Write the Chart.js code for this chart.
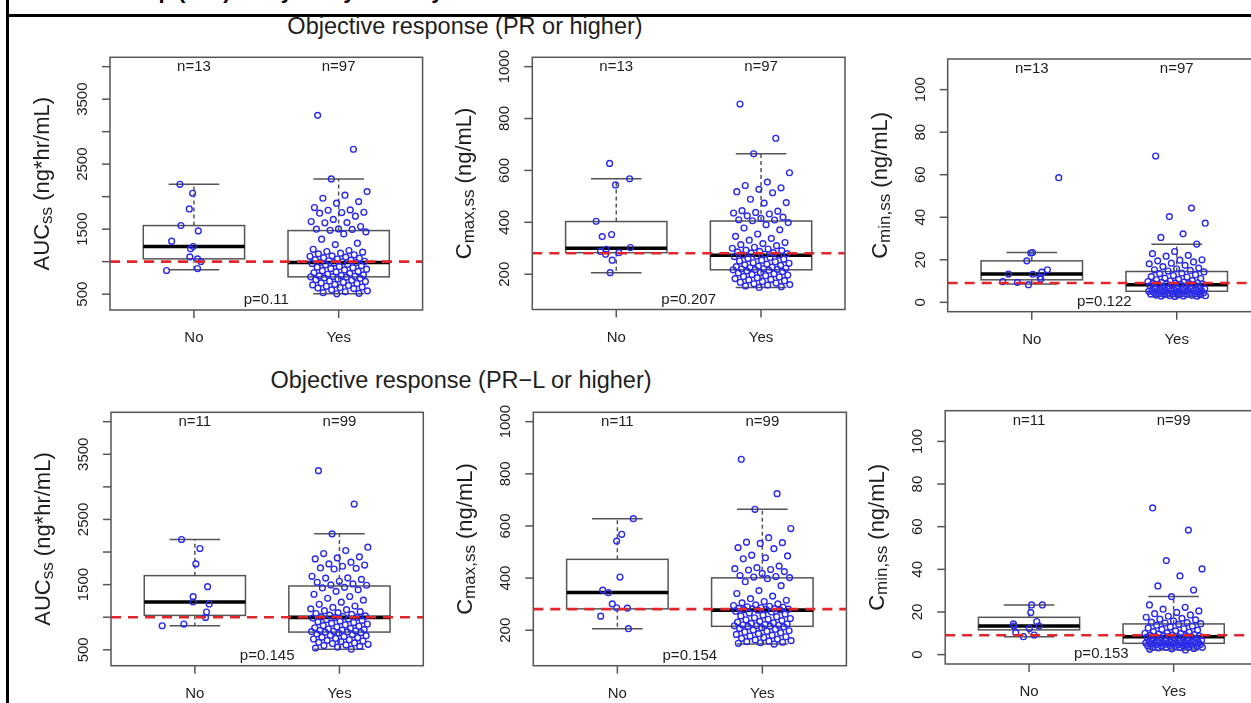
<!DOCTYPE html>
<html>
<head>
<meta charset="utf-8">
<script src="https://cdn.jsdelivr.net/npm/chart.js@4.4.1/dist/chart.umd.min.js"></script>
<style>
html,body{margin:0;padding:0;background:#fff;overflow:hidden;}
#wrap{position:relative;width:1251px;height:703px;overflow:hidden;background:#fff;}
#wrap canvas{position:absolute;left:0;top:0;}
.txt{position:absolute;white-space:nowrap;line-height:1;font-family:"Liberation Sans",Arial,Helvetica,sans-serif;color:#1e1e1e;}
.rowtitle{font-size:23.5px;transform:translate(-50%,-50%);}
.header{font-size:22px;font-weight:bold;color:#000;}
.vline{position:absolute;left:6px;top:0;width:2.5px;height:703px;background:#000;}
.hline{position:absolute;left:6px;top:13.5px;width:1251px;height:3.5px;background:#000;}
</style>
</head>
<body>
<div id="wrap"></div>
<script>
// ---------------- data ----------------
const groups = ['No', 'Yes'];
const rowTitles = ['Objective response (PR or higher)', 'Objective response (PR\u2212L or higher)'];
const headerText = 'Relationship (E-R) analysis by efficacy';
const nPR = [13, 97];
const nPRL = [11, 99];
const pValues = ['p=0.11', 'p=0.207', 'p=0.122', 'p=0.145', 'p=0.154', 'p=0.153'];

const aucTicks = [500, 1000, 1500, 2000, 2500, 3000, 3500, 4000];
const aucTickLabels = ['500', '', '1500', '', '2500', '', '3500', ''];
const cmaxTicks = [200, 400, 600, 800, 1000];
const cmaxTickLabels = ['200', '400', '600', '800', '1000'];
const cminTicks = [0, 20, 40, 60, 80, 100];
const cminTickLabels = ['0', '20', '40', '60', '80', '100'];

const refAUC = 1000;
const refCmax = 281;
const refCmin = 9.1;

// box statistics: [lower whisker, Q1, median, Q3, upper whisker]
const aucBoxPR = [[874, 1043, 1233, 1555, 2190], [505, 766, 987, 1478, 2273]];
const cmaxBoxPR = [[206, 283, 300, 403, 568], [149, 217, 273, 405, 664]];
const cminBoxPR = [[8.6, 10.6, 13.3, 19.5, 23.4], [2.8, 5.2, 8.3, 14.5, 27.3]];
const aucBoxPRL = [[869, 1028, 1233, 1638, 2192], [510, 772, 997, 1479, 2279]];
const cmaxBoxPRL = [[206, 282, 345, 472, 628], [147, 215, 277, 401, 664]];
const cminBoxPRL = [[8.4, 11.6, 13.4, 17.5, 23.3], [2.2, 5.3, 8.4, 14.4, 27.2]];

// individual values
const aucNoPR = [2190, 2052, 1811, 1555, 1473, 1315, 1233, 1197, 1074, 1043, 1002, 864, 894];
const aucYesPR = [3251, 2729, 2273, 2078, 2022, 1975, 1924, 1899, 1832, 1796, 1790, 1760, 1755, 1745, 1700, 1650, 1617, 1601, 1598, 1540, 1504, 1499, 1496, 1482,
  1458, 1427, 1345, 1284, 1262, 1190, 1171, 1156, 1146, 1130, 1120, 1105, 1089, 1082, 1070, 1061, 1052, 1040, 1031, 1022, 1014, 1006, 998, 990,
  987, 981, 972, 958, 951, 940, 926, 915, 905, 893, 884, 872, 861, 850, 842, 829, 818, 806, 797, 788, 781, 775, 770, 767,
  762, 751, 744, 733, 722, 714, 703, 695, 682, 671, 664, 651, 642, 633, 621, 610, 602, 594, 585, 566, 551, 536, 522, 512, 505];
const cmaxNoPR = [627, 568, 544, 404, 353, 345, 303, 296, 288, 283, 277, 254, 206];
const cmaxYesPR = [856, 724, 664, 591, 555, 542, 533, 527, 518, 514, 489, 476, 474, 445, 443, 438, 436, 432, 425, 420, 415, 410, 409, 406,
  399, 391, 378, 371, 355, 346, 338, 331, 322, 318, 314, 310, 304, 300, 297, 293, 291, 288, 286, 283, 281, 279, 277, 275,
  273, 270, 268, 264, 261, 258, 254, 251, 248, 244, 242, 239, 236, 234, 231, 229, 227, 225, 223, 221, 220, 219, 218, 217,
  215, 213, 210, 207, 205, 202, 199, 197, 194, 191, 189, 186, 183, 180, 178, 175, 172, 169, 166, 163, 160, 158, 155, 152, 149];
const cminNoPR = [58.6, 23.4, 23.2, 19.5, 15.3, 14.2, 13.3, 13.2, 11.9, 10.9, 9.7, 9.4, 8.3];
const cminYesPR = [68.8, 44.3, 40.3, 37.2, 32.2, 30.5, 27.4, 23.9, 22.9, 22.1, 21.7, 20.0, 19.8, 19.5, 19.0, 18.4, 18.1, 17.4, 16.8, 16.1, 15.8, 15.3, 15.0, 14.7,
  14.3, 13.8, 13.5, 13.0, 12.6, 12.1, 11.9, 11.4, 11.2, 10.8, 10.6, 10.2, 10.0, 9.8, 9.5, 9.4, 9.2, 9.0, 8.9, 8.8, 8.7, 8.6, 8.5, 8.4,
  8.3, 8.0, 7.8, 7.6, 7.3, 7.2, 7.0, 6.9, 6.7, 6.6, 6.4, 6.3, 6.1, 6.0, 5.9, 5.8, 5.7, 5.6, 5.5, 5.4, 5.4, 5.3, 5.3, 5.2,
  5.1, 5.0, 4.9, 4.8, 4.7, 4.6, 4.5, 4.4, 4.3, 4.2, 4.1, 4.0, 3.9, 3.8, 3.7, 3.6, 3.5, 3.4, 3.3, 3.2, 3.1, 3.0, 2.9, 2.9, 2.8];
const aucNoPRL = [2192, 2054, 1818, 1469, 1315, 1233, 1203, 1079, 997, 895, 869];
const aucYesPRL = [3249, 2736, 2279, 2074, 2023, 1977, 1926, 1910, 1895, 1844, 1818, 1800, 1782, 1756, 1750, 1740, 1628, 1603, 1600, 1580, 1551, 1536, 1510, 1495, 1490,
  1459, 1449, 1420, 1397, 1352, 1318, 1290, 1262, 1231, 1198, 1172, 1150, 1128, 1116, 1100, 1086, 1071, 1056, 1042, 1031, 1019, 1011, 1005, 1000,
  997, 986, 974, 963, 951, 940, 929, 918, 906, 896, 884, 871, 861, 849, 838, 829, 819, 810, 801, 795, 789, 784, 779, 775, 772,
  765, 756, 744, 736, 724, 716, 704, 694, 686, 674, 666, 654, 645, 634, 626, 614, 605, 596, 584, 575, 566, 553, 541, 526, 510];
const cmaxNoPRL = [628, 568, 542, 404, 354, 344, 301, 286, 285, 254, 206];
const cmaxYesPRL = [856, 724, 664, 590, 555, 538, 536, 533, 517, 513, 488, 485, 478, 474, 446, 440, 436, 433, 431, 425, 418, 410, 406, 404, 402,
  398, 386, 371, 352, 341, 331, 321, 315, 310, 305, 301, 297, 295, 292, 290, 288, 286, 284, 283, 282, 281, 280, 279, 278,
  277, 273, 270, 266, 262, 258, 255, 252, 248, 245, 242, 240, 237, 234, 231, 228, 226, 224, 222, 220, 219, 218, 217, 216, 215,
  213, 210, 207, 204, 201, 198, 196, 193, 190, 187, 184, 181, 178, 175, 172, 169, 166, 163, 160, 158, 156, 154, 152, 150, 147];
const cminNoPRL = [23.3, 23.3, 19.7, 15.5, 14.4, 13.4, 13.4, 12.3, 10.3, 9.2, 8.4];
const cminYesPRL = [68.8, 58.4, 44.1, 40.2, 36.9, 32.2, 30.3, 27.2, 23.3, 22.2, 21.3, 20.5, 19.8, 19.2, 18.6, 18.0, 17.5, 17.0, 16.6, 16.3, 15.8, 15.2, 15.0, 14.8, 14.5,
  14.2, 13.8, 13.4, 13.0, 12.5, 12.1, 11.8, 11.5, 11.1, 10.8, 10.5, 10.2, 10.0, 9.8, 9.6, 9.4, 9.2, 9.0, 8.9, 8.8, 8.7, 8.6, 8.5, 8.5,
  8.4, 8.2, 8.0, 7.8, 7.6, 7.4, 7.2, 7.0, 6.8, 6.7, 6.5, 6.4, 6.2, 6.1, 6.0, 5.9, 5.8, 5.7, 5.6, 5.5, 5.5, 5.4, 5.4, 5.3, 5.3,
  5.2, 5.1, 5.0, 4.9, 4.8, 4.7, 4.6, 4.5, 4.4, 4.3, 4.2, 4.1, 4.0, 3.9, 3.8, 3.7, 3.6, 3.5, 3.4, 3.3, 3.1, 2.9, 2.7, 2.5, 2.2];

// horizontal jitter offsets (positions) read for the small "No" groups
const jitNoAucPR = [-0.097, -0.009, -0.032, -0.09, 0.03, -0.154, -0.005, -0.023, -0.028, 0.025, 0.048, -0.189, 0.025];
const jitNoCmaxPR = [-0.046, 0.092, -0.005, -0.139, -0.032, -0.097, 0.097, -0.07, -0.109, 0.018, -0.074, -0.028, -0.042];
const jitNoCminPR = [0.186, 0.005, -0.007, -0.034, 0.108, 0.069, -0.161, 0.007, 0.057, 0.062, -0.2, -0.099, -0.023];
const jitNoAucPRL = [-0.092, 0.035, 0.007, 0.088, -0.012, -0.012, 0.099, 0.081, 0.074, -0.076, -0.226];
const jitNoCmaxPRL = [0.11, 0.03, -0.005, 0.018, -0.101, -0.062, -0.035, -0.005, 0.069, -0.115, 0.076];
const jitNoCminPRL = [0.018, 0.092, 0.012, 0.053, -0.108, -0.104, 0.069, 0.002, -0.092, 0.035, -0.039];

// ---------------- layout ----------------
const FONT = '"Liberation Sans", Arial, Helvetica, sans-serif';
const CANVAS_W = 1272, CANVAS_H = 703;
const X_MIN = 0.42, X_MAX = 2.58;
const AUC_RANGE = [256, 4144], CMAX_RANGE = [64, 1036], CMIN_RANGE = [-4.4, 114.4];

const panels = [
  {left: 110, right: 422.6, top: 57.3, bottom: 310, range: AUC_RANGE, ticks: aucTicks, tickLabels: aucTickLabels,
   title: ['AUC', 'ss', ' (ng*hr/mL)'], no: aucNoPR, noJit: jitNoAucPR, yes: aucYesPR, box: aucBoxPR, ref: refAUC, n: nPR, p: pValues[0]},
  {left: 532.3, right: 845, top: 57.3, bottom: 309.5, range: CMAX_RANGE, ticks: cmaxTicks, tickLabels: cmaxTickLabels,
   title: ['C', 'max,ss', ' (ng/mL)'], no: cmaxNoPR, noJit: jitNoCmaxPR, yes: cmaxYesPR, box: cmaxBoxPR, ref: refCmax, n: nPR, p: pValues[1]},
  {left: 947.7, right: 1260.8, top: 59, bottom: 311.7, range: CMIN_RANGE, ticks: cminTicks, tickLabels: cminTickLabels,
   title: ['C', 'min,ss', ' (ng/mL)'], no: cminNoPR, noJit: jitNoCminPR, yes: cminYesPR, box: cminBoxPR, ref: refCmin, n: nPR, p: pValues[2]},
  {left: 111, right: 423.3, top: 412.3, bottom: 665.7, range: AUC_RANGE, ticks: aucTicks, tickLabels: aucTickLabels,
   title: ['AUC', 'ss', ' (ng*hr/mL)'], no: aucNoPRL, noJit: jitNoAucPRL, yes: aucYesPRL, box: aucBoxPRL, ref: refAUC, n: nPRL, p: pValues[3]},
  {left: 533.3, right: 846.4, top: 412.3, bottom: 665.7, range: CMAX_RANGE, ticks: cmaxTicks, tickLabels: cmaxTickLabels,
   title: ['C', 'max,ss', ' (ng/mL)'], no: cmaxNoPRL, noJit: jitNoCmaxPRL, yes: cmaxYesPRL, box: cmaxBoxPRL, ref: refCmax, n: nPRL, p: pValues[4]},
  {left: 945.2, right: 1257.5, top: 410.7, bottom: 664, range: CMIN_RANGE, ticks: cminTicks, tickLabels: cminTickLabels,
   title: ['C', 'min,ss', ' (ng/mL)'], no: cminNoPRL, noJit: jitNoCminPRL, yes: cminYesPRL, box: cminBoxPRL, ref: refCmin, n: nPRL, p: pValues[5]}
];

function yesJitter(i) { return (((i * 0.6180339887) + 0.137) % 1 - 0.5) * 0.4; }

const wrap = document.getElementById('wrap');

// static frame and headings (real text)
const vline = document.createElement('div'); vline.className = 'vline'; wrap.appendChild(vline);
const hline = document.createElement('div'); hline.className = 'hline'; wrap.appendChild(hline);
const head = document.createElement('div'); head.className = 'txt header';
head.style.left = '40px'; head.style.top = '-20px'; head.textContent = headerText; wrap.appendChild(head);
[[465, 26.5], [461, 380.5]].forEach((pos, i) => {
  const d = document.createElement('div'); d.className = 'txt rowtitle';
  d.style.left = pos[0] + 'px'; d.style.top = pos[1] + 'px'; d.textContent = rowTitles[i];
  wrap.appendChild(d);
});

function makeDecor(p) {
  const line = (ctx, x1, y1, x2, y2) => { ctx.beginPath(); ctx.moveTo(x1, y1); ctx.lineTo(x2, y2); ctx.stroke(); };
  return {
    id: 'panelDecor',
    beforeDatasetsDraw(chart) {
      const ctx = chart.ctx, xs = chart.scales.x, ys = chart.scales.y;
      ctx.save();
      p.box.forEach((st, gi) => {
        const g = gi + 1;
        const [lo, q1, md, q3, hi] = st.map(v => ys.getPixelForValue(v));
        const xl = xs.getPixelForValue(g - 0.35), xr = xs.getPixelForValue(g + 0.35);
        const cl = xs.getPixelForValue(g - 0.175), cr = xs.getPixelForValue(g + 0.175);
        const xc = xs.getPixelForValue(g);
        ctx.strokeStyle = '#555'; ctx.lineWidth = 1.5;
        ctx.setLineDash([4, 3]);
        line(ctx, xc, q3, xc, hi); line(ctx, xc, q1, xc, lo);
        ctx.setLineDash([]);
        line(ctx, cl, hi, cr, hi); line(ctx, cl, lo, cr, lo);
        ctx.strokeRect(xl, q3, xr - xl, q1 - q3);
        ctx.strokeStyle = '#000'; ctx.lineWidth = 3.6;
        line(ctx, xl, md, xr, md);
      });
      ctx.restore();
    },
    afterDraw(chart) {
      const ctx = chart.ctx, xs = chart.scales.x, ys = chart.scales.y, a = chart.chartArea;
      ctx.save();
      // frame
      ctx.strokeStyle = '#555'; ctx.lineWidth = 1.5; ctx.setLineDash([]);
      ctx.strokeRect(a.left, a.top, a.right - a.left, a.bottom - a.top);
      ctx.fillStyle = '#1e1e1e';
      // y ticks
      p.ticks.forEach((t, i) => {
        const y = ys.getPixelForValue(t);
        line(ctx, a.left, y, a.left - 8, y);
        if (p.tickLabels[i]) {
          ctx.save();
          ctx.translate(a.left - 27, y);
          ctx.rotate(-Math.PI / 2);
          ctx.font = '15px ' + FONT; ctx.textAlign = 'center'; ctx.textBaseline = 'middle';
          ctx.fillText(p.tickLabels[i], 0, 0);
          ctx.restore();
        }
      });
      // x ticks and labels, n labels
      groups.forEach((gname, gi) => {
        const x = xs.getPixelForValue(gi + 1);
        line(ctx, x, a.bottom, x, a.bottom + 8);
        ctx.font = '15px ' + FONT; ctx.textAlign = 'center'; ctx.textBaseline = 'middle';
        ctx.fillText(gname, x, a.bottom + 28);
        ctx.fillText('n=' + p.n[gi], x, a.top + 10);
      });
      // p value
      ctx.font = '15px ' + FONT; ctx.textAlign = 'center'; ctx.textBaseline = 'middle';
      ctx.fillText(p.p, xs.getPixelForValue(1.5), a.bottom - 10);
      // axis title
      ctx.save();
      ctx.translate(a.left - 61, (a.top + a.bottom) / 2);
      ctx.rotate(-Math.PI / 2);
      ctx.textAlign = 'left'; ctx.textBaseline = 'alphabetic';
      ctx.font = '22px ' + FONT; const w1 = ctx.measureText(p.title[0]).width;
      ctx.font = '17px ' + FONT; const w2 = ctx.measureText(p.title[1]).width;
      ctx.font = '22px ' + FONT; const w3 = ctx.measureText(p.title[2]).width;
      let x = -(w1 + w2 + w3) / 2;
      ctx.font = '22px ' + FONT; ctx.fillText(p.title[0], x, 0); x += w1;
      ctx.font = '17px ' + FONT; ctx.fillText(p.title[1], x, 3); x += w2;
      ctx.font = '22px ' + FONT; ctx.fillText(p.title[2], x, 0);
      ctx.restore();
      ctx.restore();
    }
  };
}

panels.forEach((p, k) => {
  const cv = document.createElement('canvas');
  cv.width = CANVAS_W; cv.height = CANVAS_H;
  cv.style.width = CANVAS_W + 'px'; cv.style.height = CANVAS_H + 'px';
  wrap.appendChild(cv);
  const pts = [];
  p.no.forEach((v, i) => pts.push({x: 1 + p.noJit[i], y: v}));
  p.yes.forEach((v, i) => pts.push({x: 2 + yesJitter(i), y: v}));
  new Chart(cv.getContext('2d'), {
    type: 'scatter',
    data: {
      datasets: [
        {data: pts, pointRadius: 2.9, pointHoverRadius: 2.9, pointBorderWidth: 1.4,
         pointBorderColor: '#2a2ae8', pointBackgroundColor: 'rgba(0,0,0,0)', showLine: false, order: 1},
        {data: [{x: X_MIN, y: p.ref}, {x: X_MAX, y: p.ref}], showLine: true, borderColor: '#e3262b',
         borderWidth: 2.6, borderDash: [10, 7], pointRadius: 0, pointHoverRadius: 0, fill: false, order: 0}
      ]
    },
    options: {
      responsive: false, maintainAspectRatio: false, animation: false, devicePixelRatio: 1, events: [],
      layout: {padding: {left: p.left, top: p.top, right: CANVAS_W - p.right, bottom: CANVAS_H - p.bottom}},
      scales: {
        x: {type: 'linear', min: X_MIN, max: X_MAX, display: false},
        y: {type: 'linear', min: p.range[0], max: p.range[1], display: false}
      },
      plugins: {legend: {display: false}, tooltip: {enabled: false}, title: {display: false}}
    },
    plugins: [makeDecor(p)]
  });
});
</script>
</body>
</html>
